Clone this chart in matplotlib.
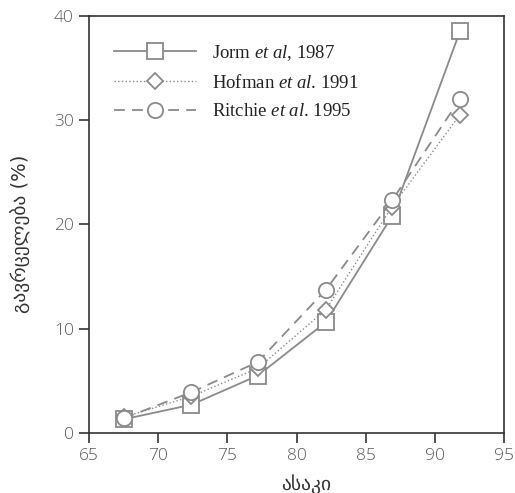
import matplotlib
matplotlib.use("Agg")
import matplotlib.pyplot as plt

ages = [67.5, 72.4, 77.2, 82.1, 86.9, 91.8]
jorm = [1.3, 2.7, 5.5, 10.6, 20.8, 38.5]
hofman = [1.5, 3.5, 6.2, 11.8, 21.7, 30.5]
ritchie = [1.4, 3.9, 6.8, 13.7, 22.3, 32.0]
labels = [r"Jorm $\mathit{et\ al}$, 1987", r"Hofman $\mathit{et\ al}$. 1991", r"Ritchie $\mathit{et\ al}$. 1995"]
xticks = [65, 70, 75, 80, 85, 90, 95]
yticks = [0, 10, 20, 30, 40]

plt.rcParams['mathtext.fontset'] = 'custom'
plt.rcParams['mathtext.rm'] = 'Liberation Serif'
plt.rcParams['mathtext.it'] = 'Liberation Serif:italic'

fig = plt.figure(figsize=(5.15, 4.93), dpi=100)
ax = fig.add_axes([0.173, 0.122, 0.806, 0.846])
gray = '#8a8a8a'
ax.plot(ages, jorm, '-', marker='s', color=gray, mfc='white', mec=gray, ms=11, lw=1.3, mew=1.3, label=labels[0])
ax.plot(ages, hofman, ':', marker='D', color=gray, mfc='white', mec=gray, ms=8, lw=1.0, mew=1.3, label=labels[1])
ax.plot(ages, ritchie, '--', marker='o', color=gray, mfc='white', mec=gray, ms=11, lw=1.3, mew=1.3, label=labels[2], dashes=(6, 4))

ax.set_xlim(65, 95)
ax.set_ylim(0, 40)
ax.set_xticks(xticks)
ax.set_yticks(yticks)
tickfont = dict(family=['Open Sans', 'Noto Sans', 'DejaVu Sans'], weight='light', size=12.5, color='#5a5a5a')
ax.set_xticklabels([str(t) for t in xticks], **tickfont)
ax.set_yticklabels([str(t) for t in yticks], **tickfont)
ax.tick_params(direction='out', length=7, width=1.2, color='#333333', pad=4)
for s in ax.spines.values():
    s.set_color('#333333')
    s.set_linewidth(1.2)

ax.set_xlabel("ასაკი", family=['DejaVu Sans'], size=14, color='#333333')
ax.xaxis.set_label_coords(0.523, -0.098)
ax.set_ylabel("გავრცელება (%)", family=['DejaVu Sans'], size=14, color='#333333')
ax.yaxis.set_label_coords(-0.14, 0.477)

leg = ax.legend(loc='upper left', frameon=False, prop={'family': 'Liberation Serif', 'size': 13.5},
                handlelength=4.35, handletextpad=0.85, borderaxespad=0, borderpad=0,
                labelspacing=0.6, bbox_to_anchor=(0.06, 0.935))
for t in leg.get_texts():
    t.set_color('#222222')

fig.savefig('out.png', dpi=100)
